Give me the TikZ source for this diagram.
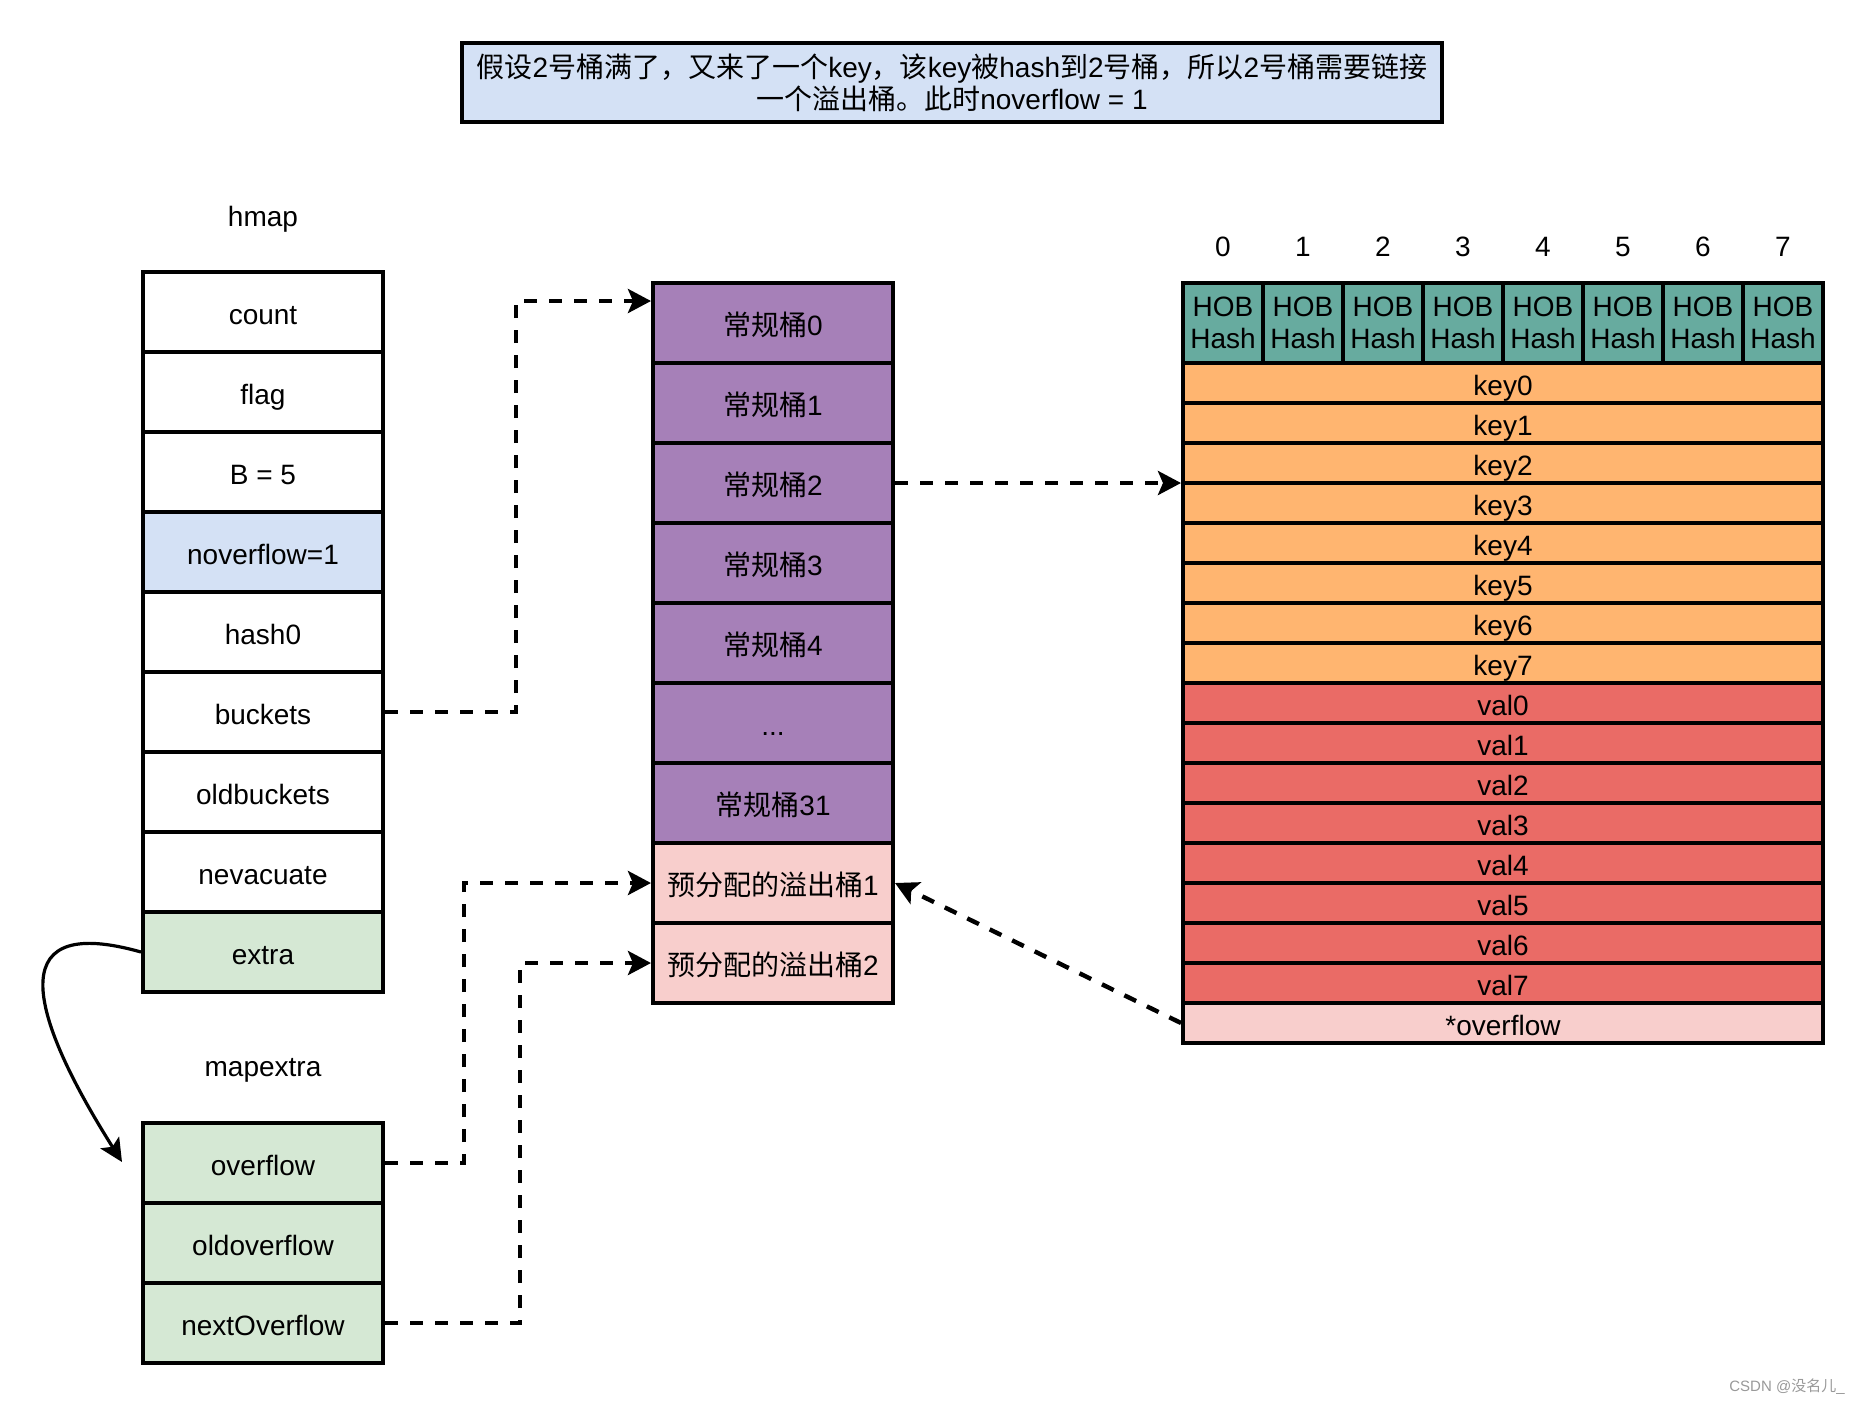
\documentclass[tikz,border=0pt]{standalone}
\usepackage{fontspec}
\setmainfont{Liberation Sans}
\newfontfamily\cjk{Noto Sans CJK SC}
\usetikzlibrary{arrows.meta,calc}
\definecolor{bluec}{HTML}{D4E1F5}
\definecolor{greenc}{HTML}{D5E8D4}
\definecolor{purplec}{HTML}{A680B8}
\definecolor{pinkc}{HTML}{F8CECC}
\definecolor{orangec}{HTML}{FFB570}
\definecolor{redc}{HTML}{EA6B66}
\definecolor{hobc}{HTML}{67AB9F}
\tikzset{
  base/.style={draw, line width=2pt, inner sep=0pt, align=center, font=\fontsize{14}{16}\selectfont},
  oneline/.style={text height=12.4pt, text depth=0pt},
  hcell/.style={base, oneline, minimum width=120pt, minimum height=40pt, fill=white},
  hobcell/.style={base, minimum width=40pt, minimum height=40pt, fill=hobc},
  rowcell/.style={base, oneline, minimum width=320pt, minimum height=20pt},
  lbl/.style={inner sep=0pt, oneline, font=\fontsize{14}{16}\selectfont},
  link/.style={line width=2.2pt, dash pattern=on 6.5pt off 6pt, -{Stealth[length=11.5pt,width=12pt,inset=2.5pt]}},
  curvearrow/.style={line width=1.6pt, -{Stealth[length=11.5pt,width=11pt,inset=2.5pt]}}
}
\begin{document}
\begin{tikzpicture}[x=0.5pt,y=-0.5pt]
\useasboundingbox[fill=white] (0,0) rectangle (1864,1404);

% title
\node[base, fill=bluec, minimum width=490pt, minimum height=39.5pt] (title) at (952,82.5)
  {{\cjk 假设}2{\cjk 号桶满了，又来了一个}key{\cjk ，该}key{\cjk 被}hash{\cjk 到}2{\cjk 号桶，所以}2{\cjk 号桶需要链接}\\{\cjk 一个溢出桶。此时}noverflow = 1};

% hmap
\node[lbl] (hmaplbl) at (263,214) {hmap};
\node[hcell] (count) at (263,312) {count};
\node[hcell] (flag) at (263,392) {flag};
\node[hcell] (bb) at (263,472) {B = 5};
\node[hcell, fill=bluec] (nov) at (263,552) {noverflow=1};
\node[hcell] (hash0) at (263,632) {hash0};
\node[hcell] (buckets) at (263,712) {buckets};
\node[hcell] (oldb) at (263,792) {oldbuckets};
\node[hcell] (nev) at (263,872) {nevacuate};
\node[hcell, fill=greenc] (extra) at (263,952) {extra};

% mapextra
\node[lbl] (mxlbl) at (263,1064) {mapextra};
\node[hcell, fill=greenc] (ovf) at (263,1163) {overflow};
\node[hcell, fill=greenc] (oldovf) at (263,1243) {oldoverflow};
\node[hcell, fill=greenc] (nxt) at (263,1323) {nextOverflow};

% buckets array
\node[hcell, fill=purplec] (b0) at (773,323) {{\cjk 常规桶}0};
\node[hcell, fill=purplec] (b1) at (773,403) {{\cjk 常规桶}1};
\node[hcell, fill=purplec] (b2) at (773,483) {{\cjk 常规桶}2};
\node[hcell, fill=purplec] (b3) at (773,563) {{\cjk 常规桶}3};
\node[hcell, fill=purplec] (b4) at (773,643) {{\cjk 常规桶}4};
\node[hcell, fill=purplec] (bd) at (773,723) {...};
\node[hcell, fill=purplec] (b31) at (773,803) {{\cjk 常规桶}31};
\node[hcell, fill=pinkc] (o1) at (773,883) {{\cjk 预分配的溢出桶}1};
\node[hcell, fill=pinkc] (o2) at (773,963) {{\cjk 预分配的溢出桶}2};

% bucket layout
\foreach \i in {0,...,7} {
  \node[lbl] (n\i) at (1223+80*\i,244) {\i};
  \node[hobcell] (h\i) at (1223+80*\i,323) {HOB\\Hash};
}
\foreach \i in {0,...,7} {
  \node[rowcell, fill=orangec] (k\i) at (1503,383+40*\i) {key\i};
}
\foreach \i in {0,...,7} {
  \node[rowcell, fill=redc] (v\i) at (1503,703+40*\i) {val\i};
}
\node[rowcell, fill=pinkc] (ovrow) at (1503,1023) {*overflow};

% connectors
\draw[link] (buckets.east) -- ++(131,0) |- ($(b0.north west)+(0,20)$);
\draw[link] (b2.east) -- (b2.east -| k0.west);
\draw[link] (ovf.east) -- ++(79,0) |- (o1.west);
\draw[link] (nxt.east) -- ++(135,0) |- (o2.west);
\draw[link] (ovrow.west) -- (o1.east);
\coordinate (cend) at (122,1162);
\draw[curvearrow] (extra.west) .. controls (10,915) and (20,1000) .. (cend);

% watermark
\node[inner sep=0pt, anchor=east, text=black!40, font=\fontsize{7.5}{9}\selectfont] (wm) at (1845,1387) {CSDN @{\cjk 没名儿}\_};
\end{tikzpicture}
\end{document}
